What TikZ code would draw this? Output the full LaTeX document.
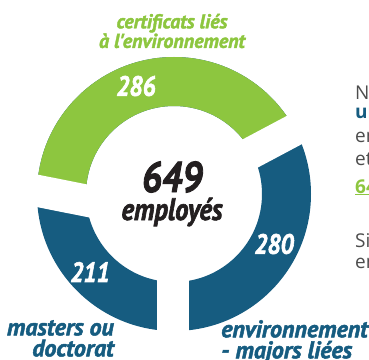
\documentclass[tikz,border=0pt]{standalone}
\usepackage{fontspec}
\newfontfamily\numfont[FakeStretch=0.86,BoldItalicFeatures={FakeBold=2}]{PT Sans}
\newfontfamily\labelfont[BoldItalicFeatures={FakeBold=2}]{PT Sans}
\newfontfamily\pagefont{Open Sans}

\definecolor{leafgreen}{HTML}{8DC63F}
\definecolor{deepblue}{HTML}{165C80}
\definecolor{inkblack}{HTML}{231F20}
\definecolor{bodygray}{HTML}{4D4D4D}

\tikzset{
  countlabel/.style={text=white,inner sep=0pt,font=\numfont\bfseries\itshape\fontsize{28}{28}\selectfont},
  catlabel/.style={inner sep=0pt,font=\labelfont\bfseries\itshape\fontsize{24}{21}\selectfont},
  gapband/.style={white,line width=32pt},
  pagetext/.style={anchor=base west,inner sep=0pt,text=bodygray,font=\pagefont\fontsize{19}{19}\selectfont},
}

\begin{document}
\begin{tikzpicture}[x=1pt,y=1pt]
		\useasboundingbox (-174,-165) rectangle (195,194);
		
		% ring: blue underneath, green on the upper part
		\fill[deepblue,even odd rule] (0,0) circle[radius=137pt] (0,0) circle[radius=88pt];
		\begin{scope}
			\clip (-200,15.7) -- (-32.7,-17.4) -- (176.6,93.9) -- (200,200) -- (-200,200) -- cycle;
			\fill[leafgreen,even odd rule] (0,0) circle[radius=137pt] (0,0) circle[radius=88pt];
		\end{scope}
		\draw[gapband] (-80,-8.1) -- (-150,5.8);
		\draw[gapband] (28:80pt) -- (28:150pt);
		\draw[gapband] (-1.5,-80) -- (-1.5,-150);
		
		\node[countlabel] (n286) at (-38,108) {286};
		\node[countlabel] (n280) at (100,-50) {280};
		\node[countlabel] (n211) at (-84,-78) {211};
		
		\node[inner sep=0pt,text=inkblack,font=\numfont\bfseries\itshape\fontsize{43}{43}\selectfont] (total) at (-2,17) {649};
		\node[anchor=base,inner sep=0pt,text=inkblack,font=\numfont\bfseries\itshape\fontsize{31}{31}\selectfont] (staff) at (-2,-26) {employés};
		
		\node[catlabel,text=leafgreen,align=center,font=\labelfont\bfseries\itshape\fontsize{20}{17}\selectfont] (certs) at (-2,163) {certificats liés\\à l'environnement};
		\node[catlabel,text=deepblue,align=right,anchor=north east] (grads) at (-60,-126) {masters ou\\doctorat};
		\node[catlabel,text=deepblue,align=left,anchor=north west] (majors) at (47,-126) {environnement\\- majors liées};
		
		% text of the page, cut by the edge
		\begin{scope}
			\clip (-174,-165) rectangle (195,194);
			\node[pagetext] (p1) at (181,94) {N};
			\node[pagetext,text=deepblue,font=\pagefont\bfseries\fontsize{19}{19}\selectfont] (p2) at (181,76) {un};
			\node[pagetext] (p3) at (181,52) {en};
			\node[pagetext] (p4) at (181,29) {et};
			\node[pagetext,text=leafgreen,font=\pagefont\bfseries\fontsize{19}{19}\selectfont] (p5) at (181,1) {\underline{64}};
			\node[pagetext] (p6) at (181,-53) {Si};
			\node[pagetext] (p7) at (181,-74) {en};
		\end{scope}
\end{tikzpicture}
\end{document}
